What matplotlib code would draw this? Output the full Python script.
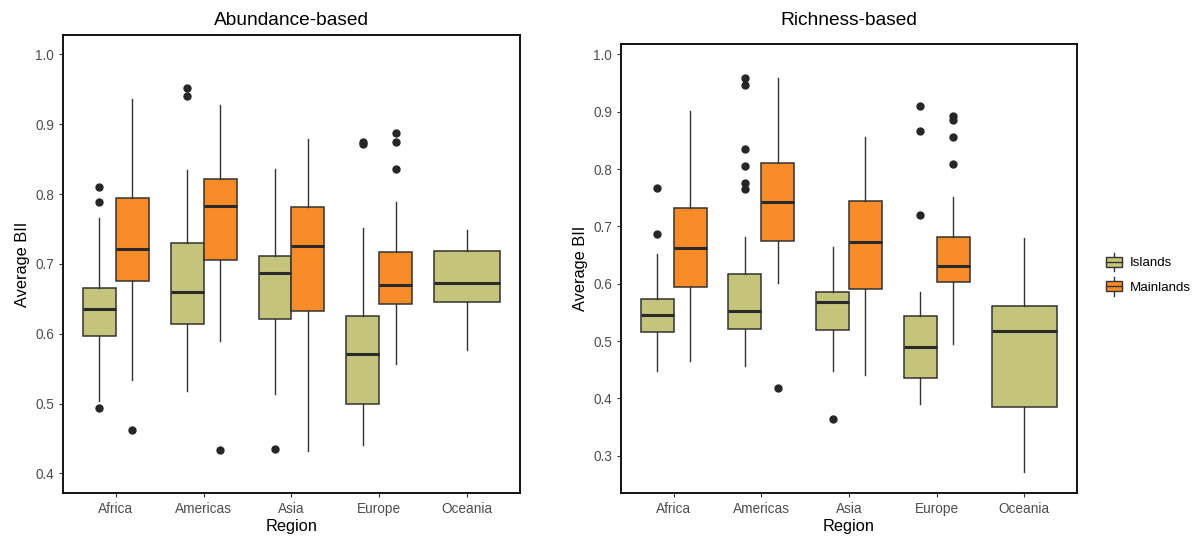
import matplotlib.pyplot as plt
from matplotlib.legend_handler import HandlerBase
from matplotlib.patches import Patch, Rectangle
from matplotlib.lines import Line2D

plt.rcParams['font.family'] = ['Liberation Sans', 'DejaVu Sans']

regions = ["Africa", "Americas", "Asia", "Europe", "Oceania"]
groups = ["Islands", "Mainlands"]

# five-number summaries: (whislo, q1, med, q3, whishi)
abund_islands = [
    (0.504, 0.597, 0.636, 0.666, 0.766),
    (0.518, 0.614, 0.659, 0.730, 0.835),
    (0.513, 0.621, 0.687, 0.711, 0.836),
    (0.441, 0.500, 0.571, 0.626, 0.751),
    (0.576, 0.645, 0.672, 0.718, 0.748),
]
abund_islands_out = [[0.810, 0.788, 0.493], [0.952, 0.941], [0.435], [0.874, 0.871], []]
abund_main = [
    (0.533, 0.676, 0.721, 0.795, 0.936),
    (0.590, 0.706, 0.783, 0.821, 0.928),
    (0.432, 0.632, 0.726, 0.781, 0.879),
    (0.556, 0.642, 0.669, 0.717, 0.788),
]
abund_main_out = [[0.462], [0.433], [], [0.887, 0.875, 0.836]]

rich_islands = [
    (0.447, 0.516, 0.545, 0.573, 0.652),
    (0.456, 0.521, 0.552, 0.617, 0.682),
    (0.448, 0.519, 0.568, 0.586, 0.664),
    (0.390, 0.435, 0.490, 0.543, 0.585),
    (0.272, 0.385, 0.518, 0.561, 0.679),
]
rich_islands_out = [[0.767, 0.686], [0.959, 0.947, 0.835, 0.806, 0.775, 0.766],
                    [0.364], [0.910, 0.866, 0.719], []]
rich_main = [
    (0.466, 0.595, 0.663, 0.732, 0.901),
    (0.602, 0.675, 0.743, 0.811, 0.959),
    (0.440, 0.590, 0.673, 0.745, 0.856),
    (0.495, 0.603, 0.631, 0.682, 0.751),
]
rich_main_out = [[], [0.419], [], [0.893, 0.886, 0.856, 0.809]]

colors = {"Islands": "#C4C47A", "Mainlands": "#F98C26"}
edge = "#333333"


def to_stats(summary, outliers):
    lo, q1, med, q3, hi = summary
    return dict(whislo=lo, q1=q1, med=med, q3=q3, whishi=hi, fliers=outliers)


def draw_boxes(ax, stats, positions, widths, color):
    ax.bxp(
        stats,
        positions=positions,
        widths=widths,
        patch_artist=True,
        showcaps=False,
        manage_ticks=False,
        boxprops=dict(facecolor=color, edgecolor=edge, linewidth=1.1),
        medianprops=dict(color="#2a2a2a", linewidth=2.2, solid_capstyle="butt"),
        whiskerprops=dict(color=edge, linewidth=1.0),
        flierprops=dict(marker="o", markersize=5, markerfacecolor="#262626",
                        markeredgecolor="#262626"),
    )


def panel(ax, title, islands, islands_out, main, main_out, ylim, yticks, title_pad):
    n_main = len(main)
    isl_pos = [i + 1 - 0.1875 if i < n_main else i + 1 for i in range(len(regions))]
    isl_w = [0.375 if i < n_main else 0.75 for i in range(len(regions))]
    draw_boxes(ax, [to_stats(s, o) for s, o in zip(islands, islands_out)],
               isl_pos, isl_w, colors["Islands"])
    draw_boxes(ax, [to_stats(s, o) for s, o in zip(main, main_out)],
               [i + 1 + 0.1875 for i in range(n_main)], [0.375] * n_main,
               colors["Mainlands"])
    ax.set_xlim(0.4, 5.6)
    ax.set_ylim(*ylim)
    ax.set_xticks(range(1, len(regions) + 1))
    ax.set_xticklabels(regions)
    ax.set_yticks(yticks)
    ax.set_yticklabels([f"{t:.1f}" for t in yticks])
    ax.tick_params(colors="#333333", labelcolor="#4D4D4D", labelsize=9.8,
                   length=3, width=0.8)
    for s in ax.spines.values():
        s.set_linewidth(1.3)
        s.set_color("black")
    ax.set_title(title, fontsize=13.8, pad=title_pad)
    ax.set_xlabel("Region", fontsize=11.8, labelpad=2)
    ax.set_ylabel("Average BII", fontsize=11.8, labelpad=4)


class BoxKey(HandlerBase):
    def create_artists(self, legend, orig, xdescent, ydescent, width, height,
                       fontsize, trans):
        fc = orig.get_facecolor()
        bw, bh = width * 0.8, height * 0.75
        x0 = -xdescent + (width - bw) / 2
        y0 = -ydescent + (height - bh) / 2
        cx = x0 + bw / 2
        whisk = Line2D([cx, cx], [y0 - 3, y0 + bh + 3], color=edge, lw=1.0,
                       transform=trans)
        rect = Rectangle((x0, y0), bw, bh, facecolor=fc, edgecolor=edge, lw=1.0,
                         transform=trans)
        med = Line2D([x0, x0 + bw], [y0 + bh / 2] * 2, color=edge, lw=1.0,
                     transform=trans)
        return [whisk, rect, med]


fig = plt.figure(figsize=(11.95, 5.38), dpi=100)
ax1 = fig.add_axes([0.0527, 0.0836, 0.3824, 0.8513])
ax2 = fig.add_axes([0.5197, 0.0836, 0.3816, 0.8346])

panel(ax1, "Abundance-based", abund_islands, abund_islands_out, abund_main,
      abund_main_out, (0.3718, 1.0277), [0.4, 0.5, 0.6, 0.7, 0.8, 0.9, 1.0], 7)
panel(ax2, "Richness-based", rich_islands, rich_islands_out, rich_main,
      rich_main_out, (0.235, 1.018), [0.3, 0.4, 0.5, 0.6, 0.7, 0.8, 0.9, 1.0], 13.5)

handles = [Patch(facecolor=colors[g], edgecolor=edge) for g in groups]
fig.legend(handles, groups, handler_map={Patch: BoxKey()},
           loc="center left", bbox_to_anchor=(0.919, 0.49), frameon=False,
           fontsize=9.6, handlelength=1.5, handleheight=1.2, handletextpad=0.5,
           labelspacing=0.75, borderpad=0.2, borderaxespad=0.2)

fig.savefig("out.png", dpi=100, facecolor="white")
